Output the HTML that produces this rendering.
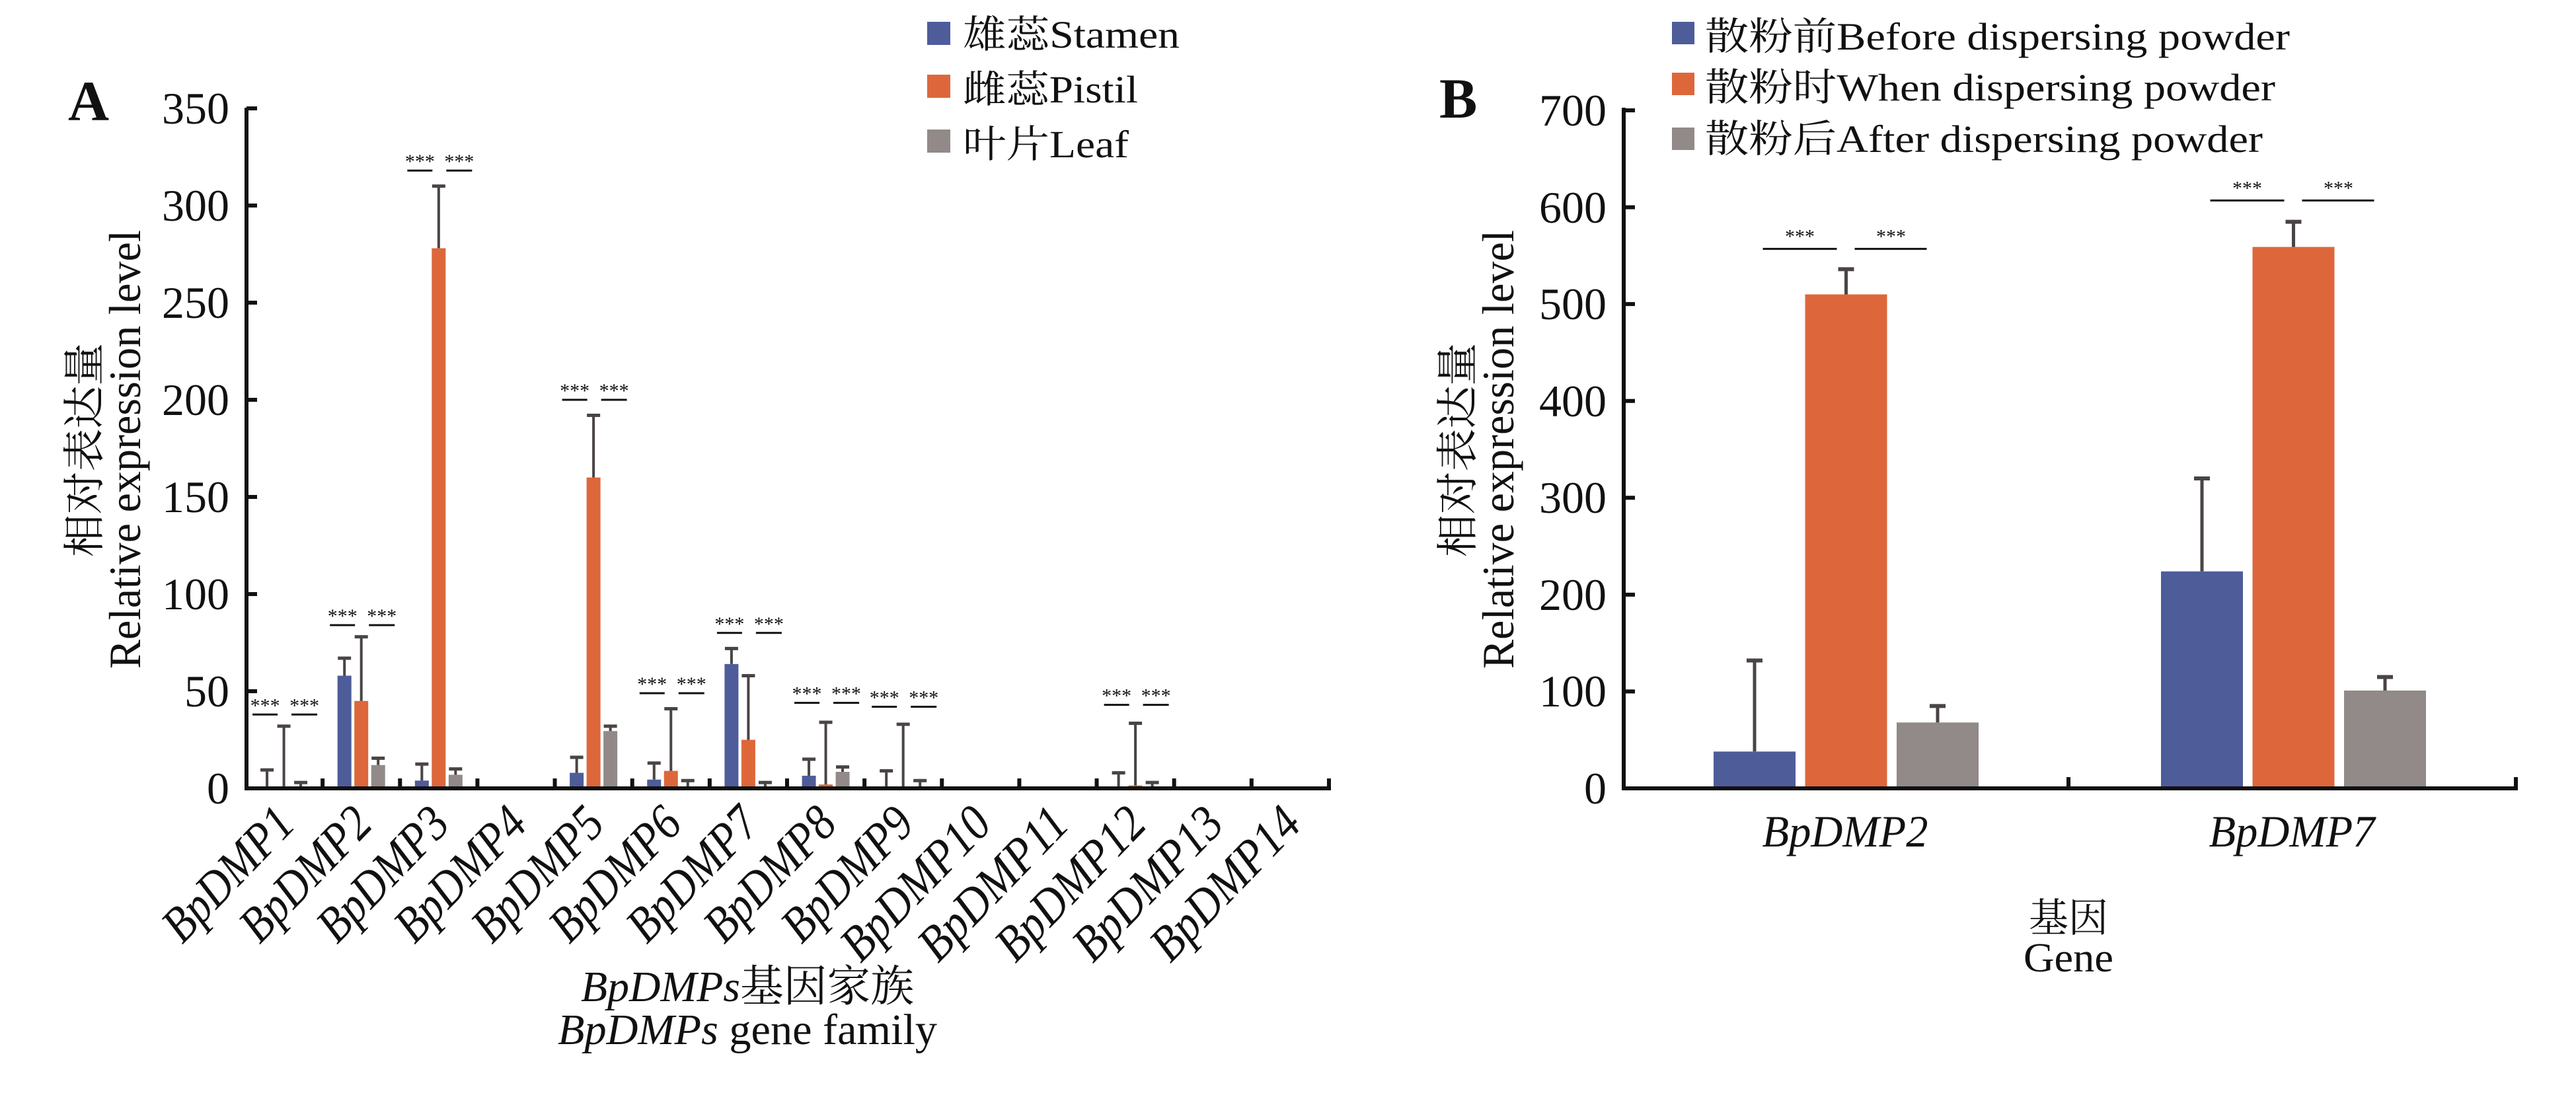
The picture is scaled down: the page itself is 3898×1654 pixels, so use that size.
<!DOCTYPE html>
<html><head><meta charset="utf-8"><style>
html,body{margin:0;padding:0;background:#fff;}
svg{display:block;}
text{font-family:"Liberation Serif","Noto Serif CJK SC","Noto Sans CJK SC",serif;fill:#111;}
.tk{font-size:68px;}
.it{font-style:italic;}
.lg{font-size:58px;}
.st{font-size:30px;}
</style></head><body>
<svg id="s" width="3898" height="1654" viewBox="0 0 3898 1654" xmlns="http://www.w3.org/2000/svg">
<rect width="3898" height="1654" fill="#fff"/>
<text x="103" y="182" style="font-size:86px;font-weight:bold">A</text>
<g class="tk" text-anchor="end">
<text x="347" y="1216">0</text><text x="347" y="1069">50</text><text x="347" y="922">100</text><text x="347" y="775">150</text><text x="347" y="628">200</text><text x="347" y="481">250</text><text x="347" y="334">300</text><text x="347" y="187">350</text>
</g>
<text transform="translate(212,680) rotate(-90)" text-anchor="middle" style="font-size:68px" textLength="664" lengthAdjust="spacingAndGlyphs">Relative expression level</text>
<text transform="translate(150,681) rotate(-90)" text-anchor="middle" style="font-size:64px" textLength="324" lengthAdjust="spacingAndGlyphs">相对表达量</text>
<g id="xlA" class="it" style="font-size:76px" text-anchor="end"></g>
<text x="1131" y="1515" text-anchor="middle" style="font-size:66px" textLength="504" lengthAdjust="spacingAndGlyphs"><tspan class="it">BpDMPs</tspan>基因家族</text>
<text x="1131" y="1580" text-anchor="middle" style="font-size:66px" textLength="574" lengthAdjust="spacingAndGlyphs"><tspan class="it">BpDMPs</tspan> gene family</text>
<rect x="1403" y="33" width="35" height="35" fill="#4f5c9a"/>
<rect x="1403" y="113" width="35" height="35" fill="#dd673b"/>
<rect x="1403" y="196" width="35" height="35" fill="#918a88"/>
<text class="lg" x="1457" y="72" textLength="328" lengthAdjust="spacingAndGlyphs">雄蕊Stamen</text>
<text class="lg" x="1457" y="155" textLength="265" lengthAdjust="spacingAndGlyphs">雌蕊Pistil</text>
<text class="lg" x="1457" y="238" textLength="251" lengthAdjust="spacingAndGlyphs">叶片Leaf</text>
<text x="2178" y="178" style="font-size:86px;font-weight:bold">B</text>
<g class="tk" text-anchor="end">
<text x="2431" y="1216">0</text><text x="2431" y="1069">100</text><text x="2431" y="923">200</text><text x="2431" y="776">300</text><text x="2431" y="630">400</text><text x="2431" y="483">500</text><text x="2431" y="337">600</text><text x="2431" y="190">700</text>
</g>
<text transform="translate(2290,680) rotate(-90)" text-anchor="middle" style="font-size:68px" textLength="664" lengthAdjust="spacingAndGlyphs">Relative expression level</text>
<text transform="translate(2228,681) rotate(-90)" text-anchor="middle" style="font-size:64px" textLength="324" lengthAdjust="spacingAndGlyphs">相对表达量</text>
<text class="it" x="2792" y="1281" text-anchor="middle" style="font-size:68px" textLength="251" lengthAdjust="spacingAndGlyphs">BpDMP2</text>
<text class="it" x="3468" y="1281" text-anchor="middle" style="font-size:68px" textLength="251" lengthAdjust="spacingAndGlyphs">BpDMP7</text>
<text x="3130" y="1410" text-anchor="middle" style="font-size:60px">基因</text>
<text x="3130" y="1470" text-anchor="middle" style="font-size:62px" textLength="136" lengthAdjust="spacingAndGlyphs">Gene</text>
<rect x="2530" y="33" width="34" height="34" fill="#4f5c9a"/>
<rect x="2530" y="110" width="34" height="34" fill="#dd673b"/>
<rect x="2530" y="193" width="34" height="34" fill="#918a88"/>
<text class="lg" x="2580" y="75" textLength="885" lengthAdjust="spacingAndGlyphs">散粉前Before dispersing powder</text>
<text class="lg" x="2580" y="152" textLength="863" lengthAdjust="spacingAndGlyphs">散粉时When dispersing powder</text>
<text class="lg" x="2580" y="230" textLength="844" lengthAdjust="spacingAndGlyphs">散粉后After dispersing powder</text>
<g id="dyn"></g>
</svg>
<script>
var NS="http://www.w3.org/2000/svg",g=document.getElementById('dyn');
function el(t,a){var e=document.createElementNS(NS,t);for(var k in a)e.setAttribute(k,a[k]);g.appendChild(e);return e;}
function ln(x1,y1,x2,y2,c,w){el('line',{x1:x1,y1:y1,x2:x2,y2:y2,stroke:c,'stroke-width':w});}
function txt(x,y,s,cls){var e=el('text',{x:x,y:y,'text-anchor':'middle','class':cls});e.textContent=s;}
var C=['#4f5c9a','#dd673b','#918a88'],EC='#4a4444';
var yA=function(v){return 1193-v*2.94;};
var dA=[[[0.5,9.5],[0,32],[0,3],38],[[58,67],[45,78],[12,15.5],84],[[4,12.5],[278,310],[7,10],318],[null,null,null,0],
[[8,16],[160,192],[29.5,32],200],[[4.5,13],[9,41],[0,4],49],[[64,72],[25,58],[0,3],80],[[6.5,15],[2,34],[8.5,11],44],
[[0,9],[1,33],[0,4],42],[null,null,null,0],[null,null,null,0],[[0,8],[1.5,33.5],[0,3],43],[null,null,null,0],[null,null,null,0]];
var xl=document.getElementById('xlA');
for(var i=0;i<14;i++){
 var c=371+117.14*(i+0.5),d=dA[i];
 for(var j=0;j<3;j++){ if(!d[j])continue; var bx=c+(j-1)*25.5;
  el('rect',{x:bx-10.5,y:yA(d[j][0]),width:21,height:d[j][0]*2.94,fill:C[j]});
  ln(bx,yA(d[j][0]),bx,yA(d[j][1]),EC,4); ln(bx-10,yA(d[j][1]),bx+10,yA(d[j][1]),EC,5);}
 if(d[3]){var sy=yA(d[3]);ln(c-47.5,sy,c-9.5,sy,'#111',3);ln(c+11.5,sy,c+50.5,sy,'#111',3);
  txt(c-28.5,sy-4,'***','st');txt(c+31,sy-4,'***','st');}
 var t=document.createElementNS(NS,'text');t.setAttribute('transform','translate('+(c+20)+',1250) rotate(-46)');
 t.setAttribute('textLength',i<9?250:290);t.setAttribute('lengthAdjust','spacingAndGlyphs');
 t.textContent='BpDMP'+(i+1);xl.appendChild(t);
 ln(371+117.14*(i+1),1193,371+117.14*(i+1),1178,'#111',6);
}
ln(373,163,373,1196,'#111',6);ln(370,1193,2014,1193,'#111',6);
for(var k=0;k<8;k++){var ty=1193-k*147;ln(373,ty,389,ty,'#111',6);}
var yB=function(v){return 1193-v*1.4657;};
var dB=[[[38,132],[510,536],[68,85],557],[[224,320],[559,585],[101,115],607]];
for(var i=0;i<2;i++){var c=2793.5+677*i,d=dB[i];
 for(var j=0;j<3;j++){var bx=c+(j-1)*138.5;
  el('rect',{x:bx-62,y:yB(d[j][0]),width:124,height:d[j][0]*1.4657,fill:C[j]});
  ln(bx,yB(d[j][0]),bx,yB(d[j][1]),EC,5); ln(bx-12,yB(d[j][1]),bx+12,yB(d[j][1]),EC,6);}
 var sy=yB(d[3]);ln(c-126,sy,c-14,sy,'#111',3);ln(c+13,sy,c+122,sy,'#111',3);
 txt(c-70,sy-9,'***','st');txt(c+68,sy-9,'***','st');}
ln(2457,163,2457,1196,'#111',6);ln(2454,1193,3810,1193,'#111',6);
for(var k=0;k<8;k++){var ty=1193-k*146.57;ln(2457,ty,2474,ty,'#111',6);}
ln(3130,1193,3130,1176,'#111',6);ln(3807,1193,3807,1176,'#111',6);
</script>
</body></html>
